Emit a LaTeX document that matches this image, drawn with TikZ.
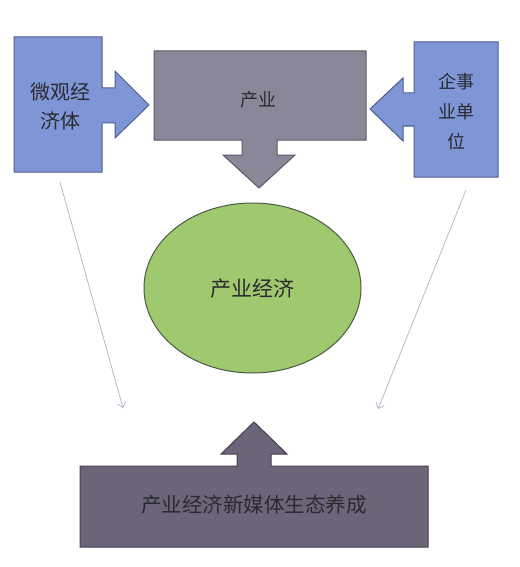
\documentclass[tikz,border=0pt]{standalone}
\usepackage{fontspec}
\setmainfont{Noto Sans CJK SC}
\usetikzlibrary{shapes.geometric,arrows.meta}
\definecolor{bluefill}{HTML}{7E96D6}
\definecolor{blueline}{HTML}{4E5F8E}
\definecolor{grayfill}{HTML}{8A8898}
\definecolor{grayline}{HTML}{5A5866}
\definecolor{greenfill}{HTML}{A0C86E}
\definecolor{greenline}{HTML}{4A5A40}
\definecolor{darkfill}{HTML}{6C6478}
\definecolor{darkline}{HTML}{45404E}
\definecolor{thinline}{HTML}{AEB4C4}
\definecolor{txt}{HTML}{2A2A30}
\tikzset{
  bluebox/.style={fill=bluefill,draw=blueline,line width=1pt,line join=miter},
  graybox/.style={fill=grayfill,draw=grayline,line width=1pt},
  darkbox/.style={fill=darkfill,draw=darkline,line width=1pt},
  label20/.style={text=txt,font=\fontsize{19}{29}\selectfont,align=center,inner sep=0pt},
  thinarrow/.style={draw=thinline,line width=0.7pt,-{Straight Barb[length=5pt,width=9pt]}}
}
\begin{document}
\begin{tikzpicture}[x=1pt,y=-1pt]
\useasboundingbox[fill=white] (0,0) rectangle (519,567);
% left blue box with arrow
\draw[bluebox] (14,37) -- (102,37) -- (102,88) -- (115,88) -- (115,71) -- (149,105) -- (115,138) -- (115,123) -- (102,123) -- (102,172) -- (14,172) -- cycle;
% top gray box with down arrow
\draw[graybox] (154,51) -- (366,51) -- (366,140) -- (277,140) -- (277,155) -- (295,155) -- (259,188) -- (223,155) -- (242,155) -- (242,140) -- (154,140) -- cycle;
% right blue box with arrow
\draw[bluebox] (414,42) -- (498,42) -- (498,177) -- (414,177) -- (414,126) -- (403,126) -- (403,141) -- (370,109) -- (403,78) -- (403,93) -- (414,93) -- cycle;
% bottom dark box with up arrow
\draw[darkbox] (80,466) -- (237,466) -- (237,454) -- (221,454) -- (254,422) -- (287,454) -- (271,454) -- (271,466) -- (428,466) -- (428,547) -- (80,547) -- cycle;
% texts
\node[label20,font=\fontsize{20}{29}\selectfont] (micro) at (60,106) {微观经\\济体};
\node[label20,font=\fontsize{18}{30}\selectfont] (ent) at (456,112) {企事\\业单\\位};
\node[label20,font=\fontsize{18}{22}\selectfont] (ind) at (258,100) {产业};
\node[ellipse,fill=greenfill,draw=greenline,line width=1pt,minimum width=217pt,minimum height=170pt,inner sep=0pt] (econ) at (252.5,288) {};
\node[label20,font=\fontsize{21}{25}\selectfont] (econtext) at (252.5,289) {产业经济};
\node[label20,font=\fontsize{20.5}{25}\selectfont] (eco) at (254,505) {产业经济新媒体生态养成};
% thin arrows
\coordinate (l1) at (60,182);
\coordinate (l2) at (123,408);
\coordinate (r1) at (466,190);
\coordinate (r2) at (378,409);
\draw[thinarrow] (l1) -- (l2);
\draw[thinarrow] (r1) -- (r2);
\end{tikzpicture}
\end{document}
